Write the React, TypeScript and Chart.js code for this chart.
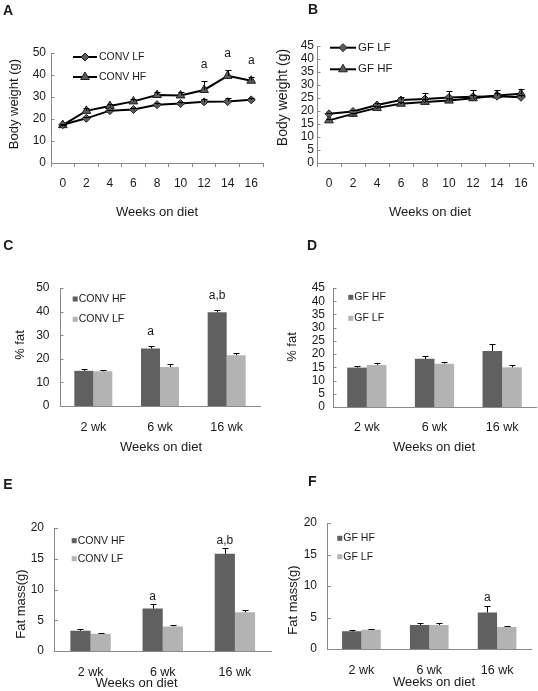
import React, { useEffect, useRef } from 'react';
import { Chart, registerables } from 'chart.js';

Chart.register(...registerables);

const FONT = "'Liberation Sans', Arial, Helvetica, sans-serif";
const W = 538;
const H = 691;
const AXIS = '#8a8a8a';
const TEXT = '#1a1a1a';
const DARK = '#606060';
const LIGHT = '#b3b3b3';
const MARK_FILL = '#5c5c5c';
const MARK_EDGE = '#1e1e1e';
const Y_BOX = 40;
const X_BOX = 40;

// ---------- data ----------
const weekLabels = ['0', '2', '4', '6', '8', '10', '12', '14', '16'];

// Panel A: conventional mice body weight (g)
const convLF = [17.4, 20.3, 23.8, 24.3, 26.5, 27.0, 27.8, 27.9, 28.7];
const convLFErr = [0.3, 0.4, 0.5, 0.5, 0.6, 0.8, 1.5, 1.8, 0.8];
const convHF = [17.2, 23.7, 25.9, 28.0, 30.9, 30.7, 33.2, 39.6, 37.4];
const convHFErr = [0.3, 1.2, 1.0, 1.0, 1.6, 1.5, 4.2, 2.6, 1.8];
const convHFSig = ['', '', '', '', '', '', 'a', 'a', 'a'];

// Panel B: germ-free mice body weight (g)
const gfLF = [18.9, 19.8, 22.3, 24.2, 24.6, 25.2, 25.5, 25.7, 25.3];
const gfLFErr = [0.4, 0.5, 0.7, 1.1, 2.5, 2.4, 2.4, 1.2, 0.8];
const gfHF = [16.4, 18.9, 21.2, 22.8, 23.5, 24.0, 24.9, 26.0, 26.6];
const gfHFErr = [0.5, 0.5, 0.6, 0.8, 1.0, 1.0, 1.2, 2.1, 2.0];

const barLabels = ['2 wk', '6 wk', '16 wk'];

// Panel C: conventional % fat
const convHFFat = [14.9, 24.4, 39.7];
const convHFFatErr = [0.8, 1.2, 1.1];
const convHFFatSig = ['', 'a', 'a,b'];
const convLFFat = [14.7, 16.5, 21.5];
const convLFFatErr = [0.4, 1.1, 1.0];

// Panel D: germ-free % fat
const gfHFFat = [14.9, 18.2, 21.2];
const gfHFFatErr = [0.7, 1.0, 2.5];
const gfLFFat = [15.9, 16.4, 15.0];
const gfLFFatErr = [0.6, 0.5, 0.9];

// Panel E: conventional fat mass (g)
const convHFMass = [3.3, 6.9, 15.8];
const convHFMassErr = [0.3, 0.7, 0.9];
const convHFMassSig = ['', 'a', 'a,b'];
const convLFMass = [2.8, 4.0, 6.3];
const convLFMassErr = [0.1, 0.3, 0.4];

// Panel F: germ-free fat mass (g)
const gfHFMass = [2.8, 3.8, 5.8];
const gfHFMassErr = [0.15, 0.37, 1.1];
const gfHFMassSig = ['', '', 'a'];
const gfLFMass = [3.07, 3.8, 3.5];
const gfLFMassErr = [0.15, 0.37, 0.2];

// ---------- helpers ----------
function drawMarker(ctx: CanvasRenderingContext2D, style: string, x: number, y: number, r: number, fill: string, stroke: string) {
  ctx.beginPath();
  if (style === 'triangle') {
    for (let k = 0; k < 3; k++) {
      const a = (k * 2 * Math.PI) / 3;
      const px = x + Math.sin(a) * r;
      const py = y - Math.cos(a) * r;
      if (k === 0) ctx.moveTo(px, py);
      else ctx.lineTo(px, py);
    }
  } else {
    ctx.moveTo(x - r, y);
    ctx.lineTo(x, y - r);
    ctx.lineTo(x + r, y);
    ctx.lineTo(x, y + r);
  }
  ctx.closePath();
  ctx.fillStyle = fill;
  ctx.fill();
  ctx.lineWidth = 1;
  ctx.strokeStyle = stroke;
  ctx.stroke();
}

const extrasPlugin = {
  id: 'extras',
  afterDraw(chart: any, _args: any, o: any) {
    const ctx: CanvasRenderingContext2D = chart.ctx;
    const ys = chart.scales.y;
    ctx.save();
    // inside tick marks on the value axis
    ctx.strokeStyle = AXIS;
    ctx.lineWidth = 1;
    ys.ticks.forEach((_t: any, i: number) => {
      const py = Math.round(ys.getPixelForTick(i)) + 0.5;
      ctx.beginPath();
      ctx.moveTo(ys.right, py);
      ctx.lineTo(ys.right + 3.5, py);
      ctx.stroke();
    });
    // error bars and significance letters
    chart.data.datasets.forEach((ds: any, i: number) => {
      const meta = chart.getDatasetMeta(i);
      meta.data.forEach((el: any, j: number) => {
        const v = ds.data[j];
        const e = ds.errorBars ? ds.errorBars[j] : 0;
        const top = ys.getPixelForValue(v + (e || 0));
        if (e) {
          const x = Math.round(el.x) + 0.5;
          const ty = Math.round(top) + 0.5;
          ctx.strokeStyle = '#000';
          ctx.lineWidth = 1;
          ctx.beginPath();
          ctx.moveTo(x, el.y);
          ctx.lineTo(x, ty);
          ctx.moveTo(x - o.capHalf, ty);
          ctx.lineTo(x + o.capHalf, ty);
          ctx.stroke();
        }
        const s = ds.sigLabels ? ds.sigLabels[j] : '';
        if (s) {
          ctx.fillStyle = TEXT;
          ctx.font = `12px ${FONT}`;
          ctx.textAlign = 'center';
          ctx.textBaseline = 'alphabetic';
          ctx.fillText(s, el.x, top - o.sigGap);
        }
      });
    });
    // legend
    const lg = o.legend;
    chart.data.datasets.forEach((ds: any, i: number) => {
      const y = lg.rows[i];
      let tx: number;
      if (lg.kind === 'line') {
        ctx.strokeStyle = ds.borderColor;
        ctx.lineWidth = ds.borderWidth;
        ctx.beginPath();
        ctx.moveTo(lg.x, y);
        ctx.lineTo(lg.x + lg.len, y);
        ctx.stroke();
        drawMarker(ctx, ds.pointStyle, lg.x + lg.len / 2, y, ds.pointRadius, ds.pointBackgroundColor, ds.pointBorderColor);
        tx = lg.x + lg.len + 2;
      } else {
        ctx.fillStyle = ds.backgroundColor;
        ctx.fillRect(lg.x, y - 2.5, 5, 5);
        tx = lg.x + 6;
      }
      ctx.fillStyle = TEXT;
      ctx.font = `${lg.size}px ${FONT}`;
      ctx.textAlign = 'left';
      ctx.textBaseline = 'middle';
      ctx.fillText(ds.label, tx, y);
    });
    // axis titles and panel letter
    (o.texts || []).forEach((t: any) => {
      ctx.save();
      ctx.fillStyle = TEXT;
      ctx.font = `${t.bold ? 'bold ' : ''}${t.size}px ${FONT}`;
      ctx.textAlign = t.align || 'center';
      ctx.textBaseline = 'middle';
      ctx.translate(t.x, t.y);
      if (t.rot) ctx.rotate(-Math.PI / 2);
      ctx.fillText(t.text, 0, 0);
      ctx.restore();
    });
    ctx.restore();
  },
};

type Panel = {
  kind: 'line' | 'bar';
  labels: string[];
  datasets: any[];
  area: { L: number; T: number; R: number; B: number };
  y: { min: number; max: number; step: number; pad: number };
  xPad: number;
  xFont: number;
  legend: any;
  texts: any[];
  sigGap: number;
  capHalf: number;
};

function buildConfig(p: Panel): any {
  const tickFont = { family: FONT, size: 12 };
  return {
    type: p.kind,
    data: { labels: p.labels, datasets: p.datasets },
    options: {
      animation: false,
      responsive: false,
      maintainAspectRatio: false,
      devicePixelRatio: 1,
      events: [],
      layout: {
        autoPadding: false,
        padding: {
          left: p.area.L - Y_BOX,
          top: p.area.T,
          right: W - p.area.R,
          bottom: H - p.area.B - X_BOX,
        },
      },
      scales: {
        x: {
          type: 'category',
          offset: true,
          grid:
            p.kind === 'line'
              ? { display: true, drawOnChartArea: false, drawTicks: true, tickLength: 4, color: AXIS, lineWidth: 1, offset: true }
              : { display: false, drawTicks: false, offset: true },
          border: { display: true, color: AXIS, width: 1 },
          ticks: {
            autoSkip: false,
            maxRotation: 0,
            minRotation: 0,
            padding: p.xPad,
            color: TEXT,
            font: { family: FONT, size: p.xFont },
          },
          afterFit: (s: any) => {
            s.height = X_BOX;
          },
        },
        y: {
          type: 'linear',
          min: p.y.min,
          max: p.y.max,
          grid: { display: false, drawTicks: false },
          border: { display: true, color: AXIS, width: 1 },
          ticks: { stepSize: p.y.step, autoSkip: false, padding: p.y.pad, color: TEXT, font: tickFont },
          afterFit: (s: any) => {
            s.width = Y_BOX;
          },
        },
      },
      plugins: {
        legend: { display: false },
        tooltip: { enabled: false },
        title: { display: false },
        extras: { legend: p.legend, texts: p.texts, sigGap: p.sigGap, capHalf: p.capHalf },
      },
    },
    plugins: [extrasPlugin],
  };
}

function lineSet(label: string, data: number[], err: number[], style: string, radius: number, sig?: string[]) {
  return {
    label,
    data,
    errorBars: err,
    sigLabels: sig,
    borderColor: '#000',
    borderWidth: 2,
    tension: 0,
    fill: false,
    pointStyle: style,
    pointRadius: radius,
    pointBackgroundColor: MARK_FILL,
    pointBorderColor: MARK_EDGE,
    pointBorderWidth: 1,
  };
}

function barSet(label: string, data: number[], err: number[], color: string, pct: number, sig?: string[]) {
  return {
    label,
    data,
    errorBars: err,
    sigLabels: sig,
    backgroundColor: color,
    borderWidth: 0,
    categoryPercentage: pct,
    barPercentage: 1,
  };
}

function panels(): Panel[] {
  return [
    {
      kind: 'line',
      labels: weekLabels,
      datasets: [
        lineSet('CONV LF', convLF, convLFErr, 'rectRot', 4),
        lineSet('CONV HF', convHF, convHFErr, 'triangle', 5, convHFSig),
      ],
      area: { L: 51, T: 53, R: 263, B: 163 },
      y: { min: 0, max: 50, step: 10, pad: 5 },
      xPad: 9,
      xFont: 12,
      legend: { kind: 'line', x: 73, len: 24, rows: [57, 77], size: 10.5 },
      texts: [
        { text: 'Body weight (g)', x: 14.5, y: 104, rot: true, size: 13 },
        { text: 'Weeks on diet', x: 157, y: 212, size: 13 },
        { text: 'A', x: 3, y: 11, size: 14, bold: true, align: 'left' },
      ],
      sigGap: 13,
      capHalf: 3,
    },
    {
      kind: 'line',
      labels: weekLabels,
      datasets: [
        lineSet('GF LF', gfLF, gfLFErr, 'rectRot', 4),
        lineSet('GF HF', gfHF, gfHFErr, 'triangle', 5),
      ],
      area: { L: 317, T: 46, R: 533, B: 163 },
      y: { min: 0, max: 45, step: 5, pad: 3 },
      xPad: 9,
      xFont: 12,
      legend: { kind: 'line', x: 330, len: 26, rows: [47.7, 69.3], size: 11.5 },
      texts: [
        { text: 'Body weight (g)', x: 283, y: 97.5, rot: true, size: 14 },
        { text: 'Weeks on diet', x: 430, y: 212, size: 13 },
        { text: 'B', x: 308, y: 10, size: 14, bold: true, align: 'left' },
      ],
      sigGap: 13,
      capHalf: 3,
    },
    {
      kind: 'bar',
      labels: barLabels,
      datasets: [
        barSet('CONV HF', convHFFat, convHFFatErr, DARK, 0.57, convHFFatSig),
        barSet('CONV LF', convLFFat, convLFFatErr, LIGHT, 0.57),
      ],
      area: { L: 60, T: 288, R: 260, B: 406 },
      y: { min: 0, max: 50, step: 10, pad: 10.5 },
      xPad: 14.5,
      xFont: 12.5,
      legend: { kind: 'box', x: 72.7, rows: [299, 319.3], size: 10.5 },
      texts: [
        { text: '% fat', x: 20, y: 345, rot: true, size: 13 },
        { text: 'Weeks on diet', x: 161, y: 447, size: 13 },
        { text: 'C', x: 3.3, y: 246, size: 14, bold: true, align: 'left' },
      ],
      sigGap: 11,
      capHalf: 3,
    },
    {
      kind: 'bar',
      labels: barLabels,
      datasets: [
        barSet('GF HF', gfHFFat, gfHFFatErr, DARK, 0.58),
        barSet('GF LF', gfLFFat, gfLFFatErr, LIGHT, 0.58),
      ],
      area: { L: 333, T: 288, R: 536, B: 407 },
      y: { min: 0, max: 45, step: 5, pad: 8 },
      xPad: 13.5,
      xFont: 12.5,
      legend: { kind: 'box', x: 348.3, rows: [297.3, 318.3], size: 10.5 },
      texts: [
        { text: '% fat', x: 292, y: 347, rot: true, size: 13 },
        { text: 'Weeks on diet', x: 434, y: 447, size: 13 },
        { text: 'D', x: 307, y: 246.5, size: 14, bold: true, align: 'left' },
      ],
      sigGap: 11,
      capHalf: 3,
    },
    {
      kind: 'bar',
      labels: barLabels,
      datasets: [
        barSet('CONV HF', convHFMass, convHFMassErr, DARK, 0.56, convHFMassSig),
        barSet('CONV LF', convLFMass, convLFMassErr, LIGHT, 0.56),
      ],
      area: { L: 54.5, T: 528, R: 271, B: 651 },
      y: { min: 0, max: 20, step: 5, pad: 10.5 },
      xPad: 14.5,
      xFont: 12.5,
      legend: { kind: 'box', x: 71.7, rows: [540.7, 558.7], size: 10.5 },
      texts: [
        { text: 'Fat mass(g)', x: 21.7, y: 604, rot: true, size: 13 },
        { text: 'Weeks on diet', x: 136.5, y: 683, size: 13 },
        { text: 'E', x: 3.3, y: 485, size: 14, bold: true, align: 'left' },
      ],
      sigGap: 4.5,
      capHalf: 3,
    },
    {
      kind: 'bar',
      labels: barLabels,
      datasets: [
        barSet('GF HF', gfHFMass, gfHFMassErr, DARK, 0.57, gfHFMassSig),
        barSet('GF LF', gfLFMass, gfLFMassErr, LIGHT, 0.57),
      ],
      area: { L: 327.5, T: 523, R: 531, B: 649 },
      y: { min: 0, max: 20, step: 5, pad: 10.5 },
      xPad: 14.5,
      xFont: 12.5,
      legend: { kind: 'box', x: 337.3, rows: [538.3, 556.7], size: 10.5 },
      texts: [
        { text: 'Fat mass(g)', x: 293, y: 600, rot: true, size: 13 },
        { text: 'Weeks on diet', x: 434, y: 682, size: 13 },
        { text: 'F', x: 308, y: 482, size: 14, bold: true, align: 'left' },
      ],
      sigGap: 4.5,
      capHalf: 3,
    },
  ];
}

function PanelCanvas({ index }: { index: number }) {
  const ref = useRef<HTMLCanvasElement>(null);
  useEffect(() => {
    const cfg = buildConfig(panels()[index]);
    const chart = new Chart(ref.current as HTMLCanvasElement, cfg);
    return () => chart.destroy();
  }, [index]);
  return (
    <canvas
      ref={ref}
      width={W}
      height={H}
      style={{ position: 'absolute', left: 0, top: 0, width: W, height: H }}
    />
  );
}

export default function App() {
  return (
    <div style={{ position: 'absolute', left: 0, top: 0, width: W, height: H, background: '#ffffff', overflow: 'hidden' }}>
      {[0, 1, 2, 3, 4, 5].map((i) => (
        <PanelCanvas key={i} index={i} />
      ))}
    </div>
  );
}
